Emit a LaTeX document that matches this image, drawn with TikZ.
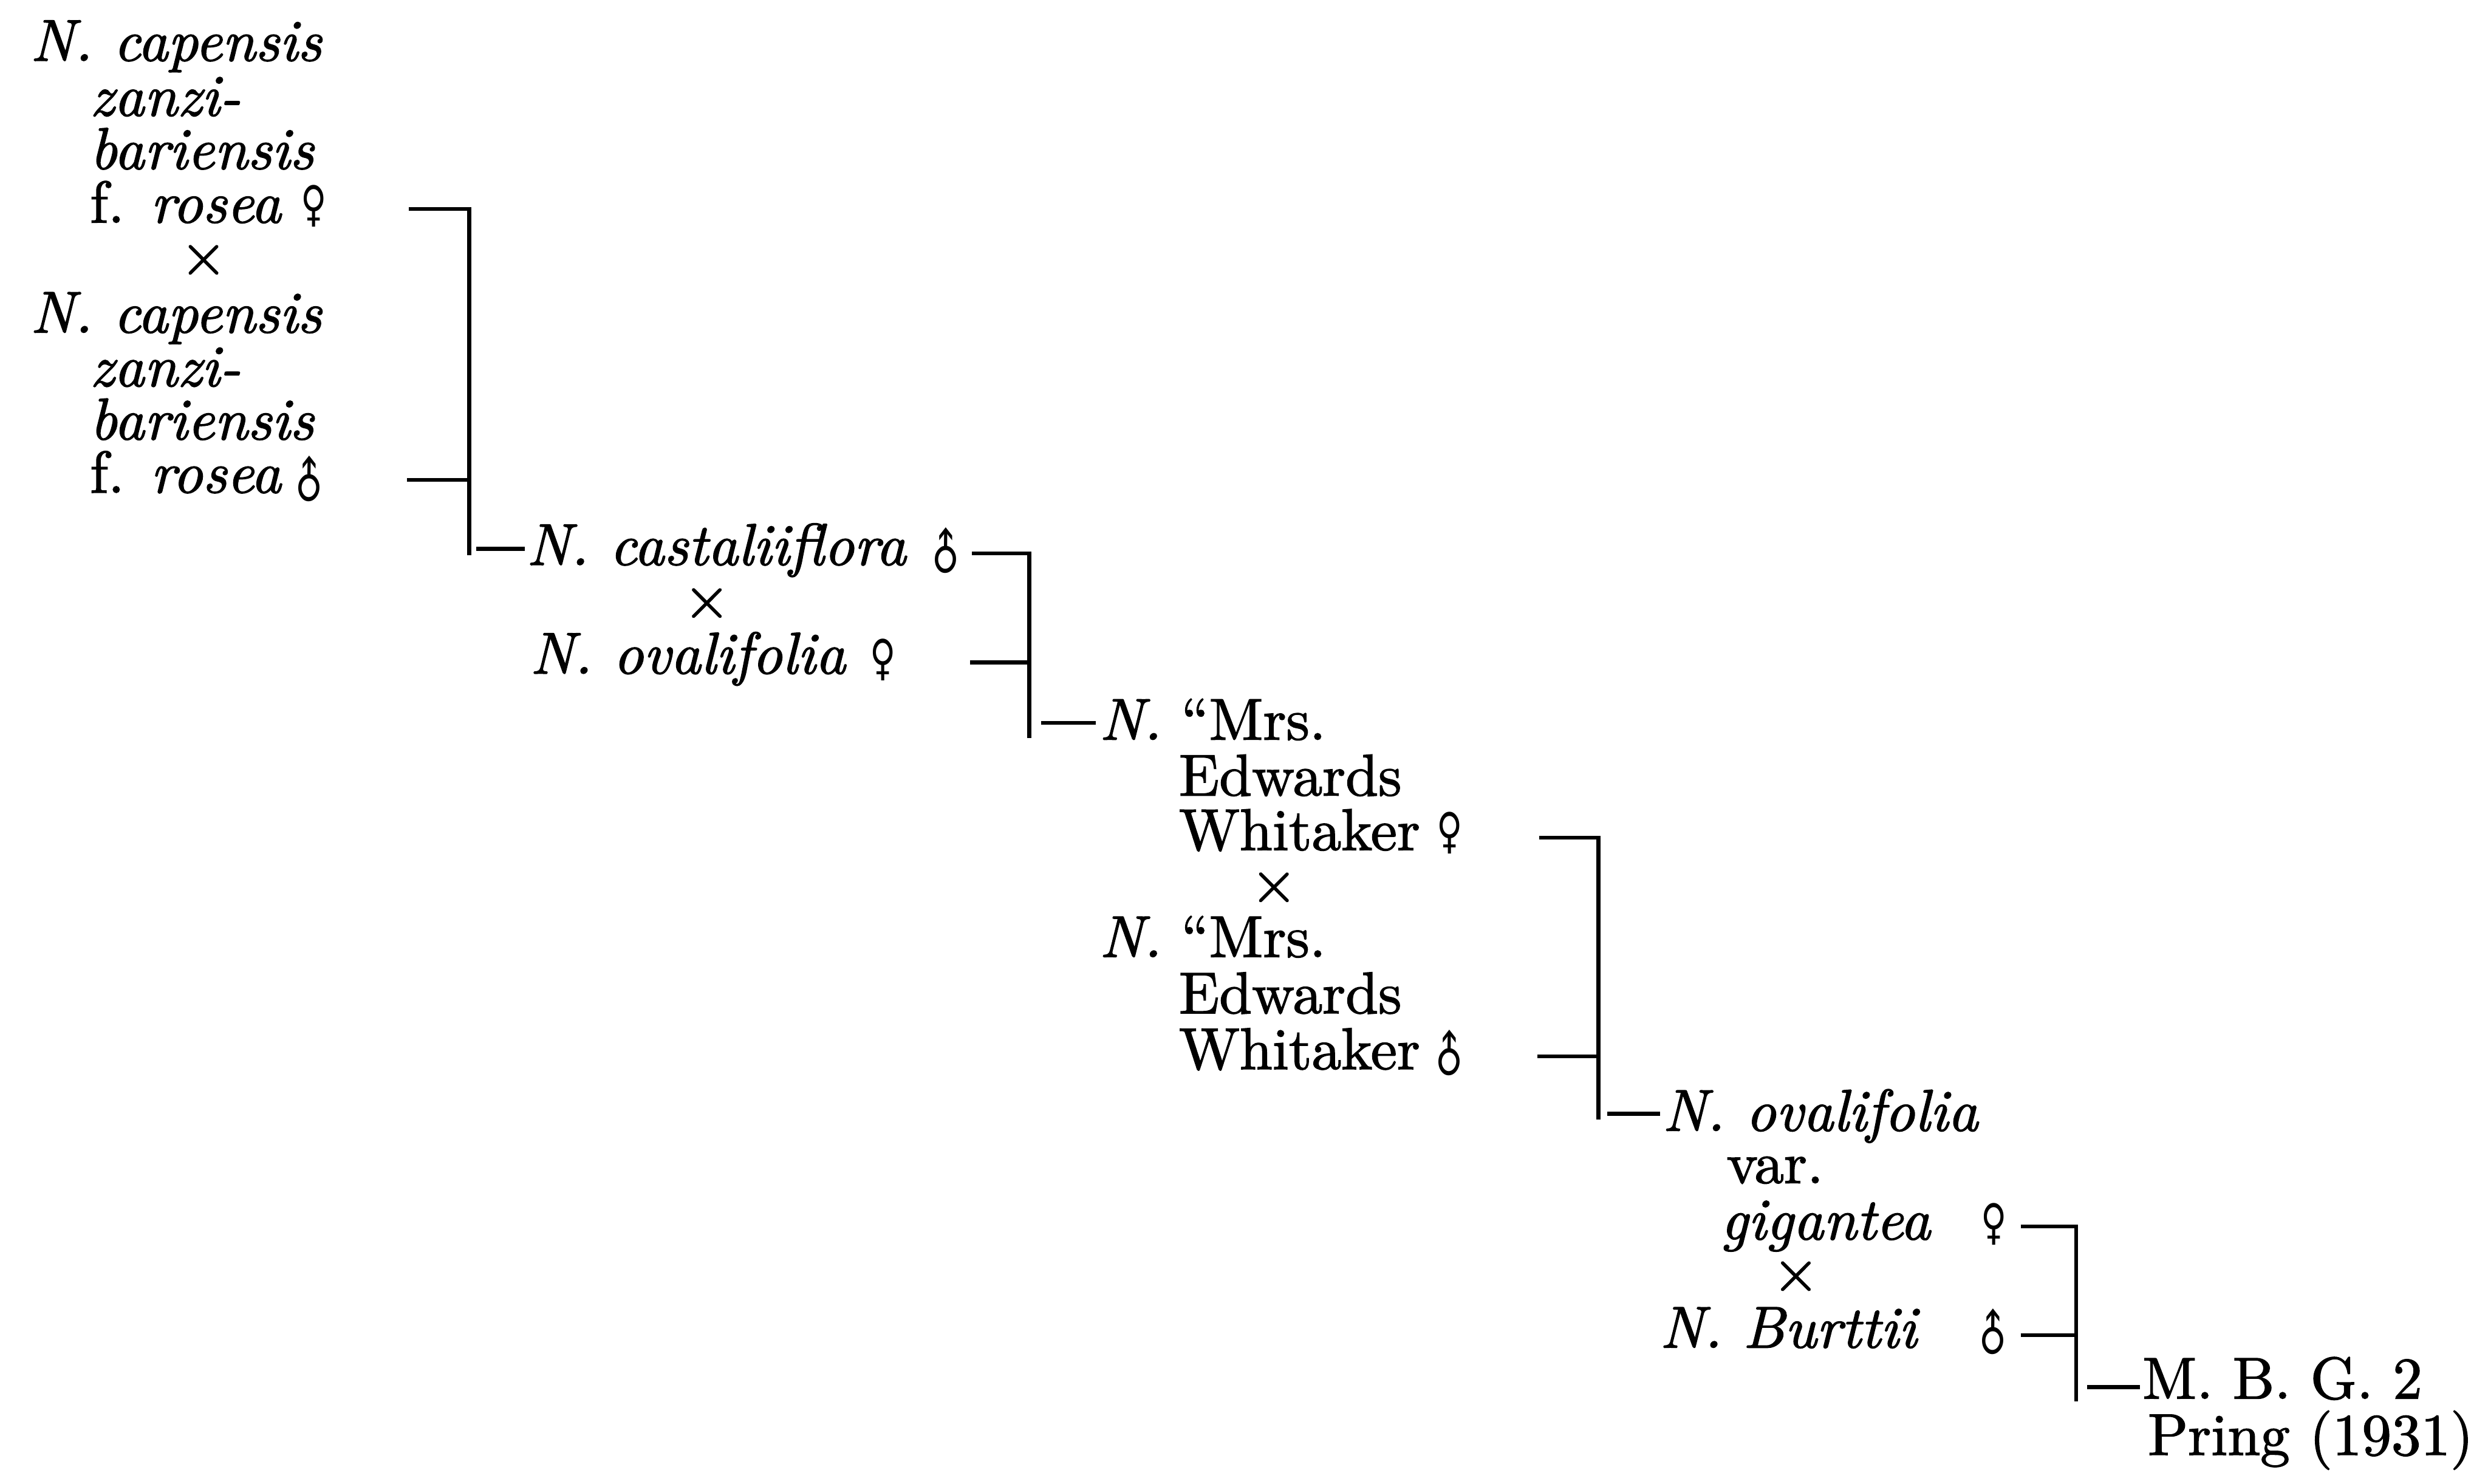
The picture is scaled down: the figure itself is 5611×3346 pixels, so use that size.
\documentclass[tikz,border=0pt]{standalone}
\usepackage{fontspec}
\setmainfont{lmroman10-regular.otf}[ItalicFont=lmroman10-italic.otf, FakeBold=1.6]
\newfontfamily\symfont{DejaVu Sans}
\usetikzlibrary{calc}
\newcommand{\fem}{\scalebox{0.72}[1]{♀}}
\newcommand{\mal}{\scalebox{0.78}[1]{\rotatebox{45}{♂}}}
\tikzset{
  ln/.style={anchor=base west, inner sep=0pt, outer sep=0pt, font=\fontsize{13.3}{12}\selectfont},
  it/.style={ln, font=\fontsize{13.3}{12}\selectfont\itshape},
  sx/.style={inner sep=0pt, outer sep=0pt, font=\fontsize{11}{11}\symfont},
  crossmark/.style={inner sep=0pt, outer sep=0pt, font=\fontsize{13.5}{13.5}\selectfont},
  br/.style={line width=0.9pt, line cap=butt},
}
\begin{document}
\begin{tikzpicture}[x=0.1pt, y=-0.1pt]
\fill[white] (0,0) rectangle (5611,3346);
\useasboundingbox (0,0) rectangle (5611,3346);

% ---- block 1
\node[it] (a1) at (69,137) {N. capensis};
\node[it] (a2) at (203,261) {zanzi-};
\node[it] (a3) at (203,381) {bariensis};
\node[ln] (a4) at (203,502) {f. \textit{rosea}};
\node[sx] (a4s) at (708,465) {\fem};
\node[crossmark] (x1) at (459,586) {×};
\node[it] (a5) at (69,750) {N. capensis};
\node[it] (a6) at (203,871) {zanzi-};
\node[it] (a7) at (203,991) {bariensis};
\node[ln] (a8) at (203,1111) {f. \textit{rosea}};
\node[sx] (a8s) at (697,1086) {\mal};

\coordinate (t1a) at (922,471);
\coordinate (t1b) at (918,1082);
\coordinate (v1b) at (1058,1252);
\coordinate (o1a) at (1074,1238);
\coordinate (o1b) at (1183,1238);
\draw[br] (t1a) -| (v1b);
\draw[br] (t1b) -- (t1b -| v1b);
\draw[br] (o1a) -- (o1b);

% ---- block 2
\node[it] (c1) at (1188,1274) {N. castaliiflora};
\node[sx] (c1s) at (2132,1248) {\mal};
\node[crossmark] (x2) at (1594,1360) {×};
\node[it] (c2) at (1196,1519) {N. ovalifolia};
\node[sx] (c2s) at (1991,1488) {\fem};

\coordinate (t2a) at (2192,1248);
\coordinate (t2b) at (2188,1494);
\coordinate (v2b) at (2321,1665);
\coordinate (o2a) at (2348,1630);
\coordinate (o2b) at (2471,1630);
\draw[br] (t2a) -| (v2b);
\draw[br] (t2b) -- (t2b -| v2b);
\draw[br] (o2a) -- (o2b);

% ---- block 3
\node[ln] (d1) at (2480,1668) {\textit{N.} “Mrs.};
\node[ln] (d2) at (2659,1794) {Edwards};
\node[ln] (d3) at (2659,1917) {Whitaker};
\node[sx] (d3s) at (3270,1879) {\fem};
\node[crossmark] (x3) at (2873,2001) {×};
\node[ln] (d4) at (2480,2158) {\textit{N.} “Mrs.};
\node[ln] (d5) at (2659,2285) {Edwards};
\node[ln] (d6) at (2659,2411) {Whitaker};
\node[sx] (d6s) at (3268,2381) {\mal};

\coordinate (t3a) at (3471,1889);
\coordinate (t3b) at (3467,2382);
\coordinate (v3b) at (3605,2525);
\coordinate (o3a) at (3625,2512);
\coordinate (o3b) at (3744,2512);
\draw[br] (t3a) -| (v3b);
\draw[br] (t3b) -- (t3b -| v3b);
\draw[br] (o3a) -- (o3b);

% ---- block 4
\node[it] (e1) at (3750,2550) {N. ovalifolia};
\node[ln] (e2) at (3894,2668) {var.};
\node[it] (e3) at (3881,2795) {gigantea};
\node[sx] (e3s) at (4497,2760) {\fem};
\node[crossmark] (x4) at (4050,2878) {×};
\node[it] (e4) at (3744,3039) {N. Burttii};
\node[sx] (e4s) at (4494,3009) {\mal};

\coordinate (t4a) at (4557,2766);
\coordinate (t4b) at (4557,3011);
\coordinate (v4b) at (4682,3160);
\coordinate (o4a) at (4707,3128);
\coordinate (o4b) at (4826,3128);
\draw[br] (t4a) -| (v4b);
\draw[br] (t4b) -- (t4b -| v4b);
\draw[br] (o4a) -- (o4b);

% ---- result
\node[ln] (f1) at (4832,3154) {M. B. G. 2};
\node[ln] (f2) at (4844,3281) {Pring (1931)};
\end{tikzpicture}
\end{document}
